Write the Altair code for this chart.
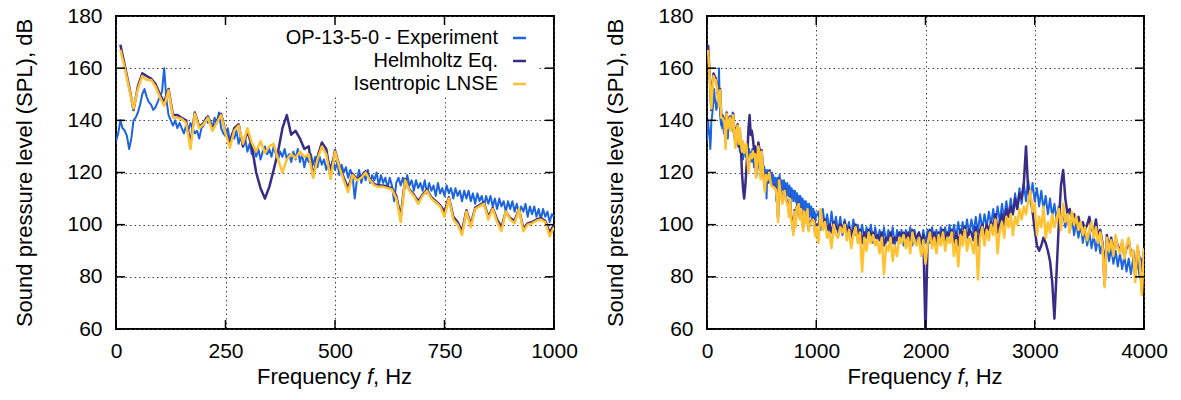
import altair as alt
import pandas as pd

FONT = "Liberation Sans"
SERIES = ["OP-13-5-0 - Experiment", "Helmholtz Eq.", "Isentropic LNSE"]
KEYS = ["exp", "helm", "lnse"]
COLORS = ["#1c64e0", "#382c86", "#fec232"]
WIDTHS = [2.0, 2.5, 2.5]
YTICKS = [60, 80, 100, 120, 140, 160, 180]
XTICKS_L = [0, 250, 500, 750, 1000]
XTICKS_R = [0, 1000, 2000, 3000, 4000]

# frequency grids (Hz)
EXP_F_LO = list(range(0, 1001, 5))
EXP_F_HI = list(range(1020, 4001, 20))
SIM_F_LO = list(range(10, 1001, 10))
SIM_F_HI = list(range(1020, 4001, 20))

# SPL values (dB)
EXP_LO = [
    132, 135, 140, 137, 136, 134, 129, 133, 140, 141,
    143, 146, 150, 152, 149, 147, 146, 144, 145, 147,
    149, 151, 160, 148, 142, 140, 138, 140, 137, 139,
    137, 135, 138, 136, 139, 137, 135, 136, 133, 137,
    138, 141, 139, 140, 137, 141, 139, 143, 137, 135,
    134, 137, 132, 135, 133, 136, 131, 134, 130, 133,
    128, 131, 127, 130, 126, 129, 125, 128, 130, 127,
    129, 126, 130, 127, 125, 128, 126, 129, 125, 127,
    124, 128, 125, 129, 124, 127, 122, 126, 124, 127,
    123, 126, 122, 126, 123, 125, 121, 124, 122, 125,
    121, 124, 119, 123, 120, 122, 118, 121, 119, 110,
    117, 121, 116, 120, 117, 121, 116, 119, 117, 120,
    115, 119, 116, 118, 114, 118, 115, 109, 116, 118,
    115, 118, 114, 119, 115, 117, 113, 117, 114, 116,
    113, 117, 112, 116, 113, 115, 111, 116, 112, 114,
    111, 115, 112, 114, 110, 114, 111, 113, 109, 113,
    110, 113, 109, 112, 108, 112, 109, 111, 107, 111,
    108, 111, 107, 110, 106, 110, 107, 109, 105, 109,
    106, 109, 105, 108, 104, 107, 105, 108, 103, 107,
    104, 107, 103, 106, 102, 106, 103, 105, 101, 104,
    103,
]
EXP_HI = [
    105, 98, 106, 99, 104, 97, 105, 98, 103, 97,
    103, 96, 102, 97, 101, 95, 102, 96, 100, 95,
    100, 94, 99, 95, 100, 93, 99, 94, 98, 93,
    99, 93, 98, 94, 99, 92, 98, 93, 98, 92,
    98, 93, 99, 92, 98, 93, 97, 92, 98, 93,
    98, 93, 99, 94, 98, 93, 99, 94, 99, 94,
    100, 94, 100, 95, 101, 95, 101, 96, 102, 96,
    102, 97, 103, 97, 104, 98, 104, 99, 105, 100,
    106, 100, 107, 101, 108, 102, 109, 103, 110, 104,
    112, 106, 114, 108, 116, 109, 117, 110, 116, 109,
    114, 107, 113, 106, 111, 104, 110, 103, 108, 102,
    107, 100, 105, 99, 104, 97, 103, 96, 101, 95,
    100, 93, 98, 92, 97, 91, 96, 90, 95, 89,
    93, 87, 92, 86, 91, 85, 90, 84, 89, 83,
    88, 82, 87, 81, 87, 81, 86, 80, 87, 83,
]
HELM_LO = [
    169, 161, 153, 144, 153, 158, 157, 156, 154, 150,
    147, 152, 142, 142, 141, 140, 131, 143, 137.5, 139,
    141.5, 136.5, 139.5, 142.5, 135.5, 131, 137, 138.5, 130, 136,
    130, 120, 114, 110, 114.5, 121, 128, 137, 142, 134.5,
    136, 133, 129, 130, 118.5, 126, 131.5, 129, 119, 128.5,
    122.5, 118, 114, 119.5, 117.5, 118.5, 120.5, 117.5, 115.5, 115,
    115, 114.5, 114, 111, 103, 117.5, 113.5, 111.5, 109, 111.5,
    113.5, 110.5, 109, 107.5, 105, 110.5, 103, 101, 97.5, 105.5,
    100, 106.5, 107.5, 108.5, 103, 106.5, 102, 99, 105, 102.5,
    101.5, 106, 98.5, 100.5, 101, 102, 102.5, 101.5, 97, 100,
]
HELM_HI = [
    100, 103, 99, 102, 98, 100, 97, 101, 99, 98,
    100, 98, 101, 97, 99, 96, 98, 100, 96, 98,
    93, 97, 95, 98, 96, 97, 95, 96, 94, 97,
    92, 95, 94, 97, 93, 95, 94, 97, 96, 97,
    95, 97, 94, 98, 96, 95, 97, 93, 96, 58,
    95, 98, 94, 97, 93, 97, 95, 98, 94, 97,
    96, 98, 93, 97, 92, 98, 96, 99, 95, 98,
    97, 94, 99, 92, 98, 100, 96, 100, 98, 101,
    99, 104, 97, 101, 104, 100, 106, 103, 107, 104,
    110, 106, 112, 110, 116, 130, 113, 110, 105, 98,
    92, 90, 92, 95, 93, 90, 86, 78, 64, 82,
    100, 115, 121, 110, 104, 106, 102, 104, 100, 103,
    99, 101, 98, 100, 103, 98, 97, 102, 95, 98,
    93, 77, 96, 91, 95, 89, 95, 92, 90, 93,
    88, 91, 94, 89, 90, 80, 91, 87, 75, 90,
]
LNSE_LO = [
    167, 160, 152, 144.5, 152, 157, 155.5, 155.5, 153, 149,
    145.5, 151.5, 141, 141, 140.5, 139, 129, 142.5, 137, 138.5,
    141, 136, 139, 142, 135, 129.5, 136, 138, 131, 137,
    131.5, 128, 132, 127.5, 130, 131, 125, 120, 125, 127,
    125.5, 128, 126, 127, 118, 125, 130, 127, 117.5, 128,
    122, 117, 112.5, 119, 117, 118, 120, 117, 115, 114.5,
    114.5, 114, 113.5, 110, 101, 117, 113, 111, 108, 111,
    113, 110, 108.5, 107, 103, 110, 102, 100, 96, 105,
    99, 106, 107, 108, 102, 106, 101, 97.5, 105, 102,
    100.5, 106, 97.5, 100, 100.5, 101.5, 102, 101, 95.5, 99,
]
LNSE_HI = [
    93, 106, 98, 101, 95, 97, 91, 100, 96, 95,
    99, 97, 100, 94, 98, 91, 96, 99, 93, 97,
    82, 95, 90, 97, 93, 96, 92, 94, 89, 95,
    81, 92, 90, 95, 86, 92, 88, 95, 93, 96,
    91, 95, 89, 97, 93, 92, 95, 88, 94, 85,
    93, 97, 91, 95, 89, 96, 92, 97, 90, 95,
    93, 97, 88, 94, 84, 96, 92, 98, 90, 95,
    93, 89, 97, 79, 95, 99, 92, 98, 94, 100,
    96, 102, 89, 98, 101, 95, 103, 99, 104, 96,
    103, 100, 106, 102, 107, 104, 109, 113, 105, 108,
    96, 103, 99, 107, 95, 101, 97, 104, 99, 102,
    106, 98, 108, 101, 104, 97, 105, 100, 103, 98,
    101, 96, 99, 94, 98, 101, 95, 99, 93, 97,
    92, 76, 95, 90, 94, 88, 96, 91, 89, 94,
    87, 92, 95, 88, 90, 78, 92, 86, 73, 91,
]

rows = []
for f, v in zip(EXP_F_LO + EXP_F_HI, EXP_LO + EXP_HI):
    rows.append(("exp", f, v))
for f, v in zip(SIM_F_LO + SIM_F_HI, HELM_LO + HELM_HI):
    rows.append(("helm", f, v))
for f, v in zip(SIM_F_LO + SIM_F_HI, LNSE_LO + LNSE_HI):
    rows.append(("lnse", f, v))
df = pd.DataFrame(rows, columns=["s", "f", "v"])

H = 313
TICK = 9
one = pd.DataFrame({"a": [0]})


def panel(xmax, xticks, W, legend):
    xs = alt.Scale(domain=[0, xmax], nice=False, zero=False)
    ys = alt.Scale(domain=[60, 180], nice=False, zero=False)
    X = alt.X("f:Q", scale=xs,
              axis=alt.Axis(values=xticks, title=None, grid=True, tickSize=0,
                            domain=False, labelPadding=11, labelFlush=False,
                            format="d"))
    Y = alt.Y("v:Q", scale=ys,
              axis=alt.Axis(values=YTICKS, title="Sound pressure level (SPL), dB",
                            grid=True, tickSize=0, domain=False, labelPadding=14,
                            titlePadding=30, format="d"))
    data = df[df.f <= xmax]
    layers = []
    if legend:
        layers.append(alt.Chart(one).mark_rect(color="white").encode(
            x=alt.value(75), x2=alt.value(423), y=alt.value(1), y2=alt.value(80)))
    for key, color, sw in zip(KEYS, COLORS, WIDTHS):
        layers.append(alt.Chart(data[data.s == key]).mark_line(
            color=color, strokeWidth=sw, clip=True, strokeJoin="round").encode(x=X, y=Y))
    xt = pd.DataFrame({"f": xticks})
    yt = pd.DataFrame({"v": YTICKS})
    layers.append(alt.Chart(xt).mark_rule(color="black", strokeWidth=1.5).encode(
        x=X, y=alt.value(H - TICK), y2=alt.value(H)))
    layers.append(alt.Chart(xt).mark_rule(color="black", strokeWidth=1.5).encode(
        x=X, y=alt.value(0), y2=alt.value(TICK)))
    layers.append(alt.Chart(yt).mark_rule(color="black", strokeWidth=1.5).encode(
        y=Y, x=alt.value(0), x2=alt.value(TICK)))
    layers.append(alt.Chart(yt).mark_rule(color="black", strokeWidth=1.5).encode(
        y=Y, x=alt.value(W - TICK), x2=alt.value(W)))
    # x-axis title with italic f
    xf = W / 2 + 32
    ty = H + 55
    layers.append(alt.Chart(one).mark_text(text="Frequency", align="right", baseline="alphabetic",
                                           font=FONT, fontSize=22, color="black").encode(
        x=alt.value(xf - 6), y=alt.value(ty)))
    layers.append(alt.Chart(one).mark_text(text="f", align="left", baseline="alphabetic",
                                           font=FONT, fontSize=22, fontStyle="italic",
                                           color="black").encode(
        x=alt.value(xf), y=alt.value(ty)))
    layers.append(alt.Chart(one).mark_text(text=", Hz", align="left", baseline="alphabetic",
                                           font=FONT, fontSize=22, color="black").encode(
        x=alt.value(xf + 6), y=alt.value(ty)))
    if legend:
        for i, (lab, color, sw) in enumerate(zip(SERIES, COLORS, WIDTHS)):
            yy = 22 + i * 23
            layers.append(alt.Chart(one).mark_text(text=lab, align="right", baseline="middle",
                                                   font=FONT, fontSize=20, color="black").encode(
                x=alt.value(382), y=alt.value(yy)))
            layers.append(alt.Chart(one).mark_rule(color=color, strokeWidth=2.5).encode(
                x=alt.value(397), x2=alt.value(410), y=alt.value(yy)))
    return alt.layer(*layers).properties(width=W, height=H)


left = panel(1000, XTICKS_L, 438, True)
right = panel(4000, XTICKS_R, 437, False)

chart = alt.hconcat(left, right, spacing=24).properties(
    padding={"left": 12, "top": 4, "right": 5, "bottom": 2}
).configure_view(stroke="black", strokeWidth=2).configure_axis(
    labelFont=FONT, titleFont=FONT, labelFontSize=21, titleFontSize=22,
    titleFontWeight="normal", labelColor="black", titleColor="black",
    gridColor="#444", gridDash=[1.5, 3], gridWidth=1, gridOpacity=1
)

chart.save("out.html", embed_options={"renderer": "svg", "actions": False})
